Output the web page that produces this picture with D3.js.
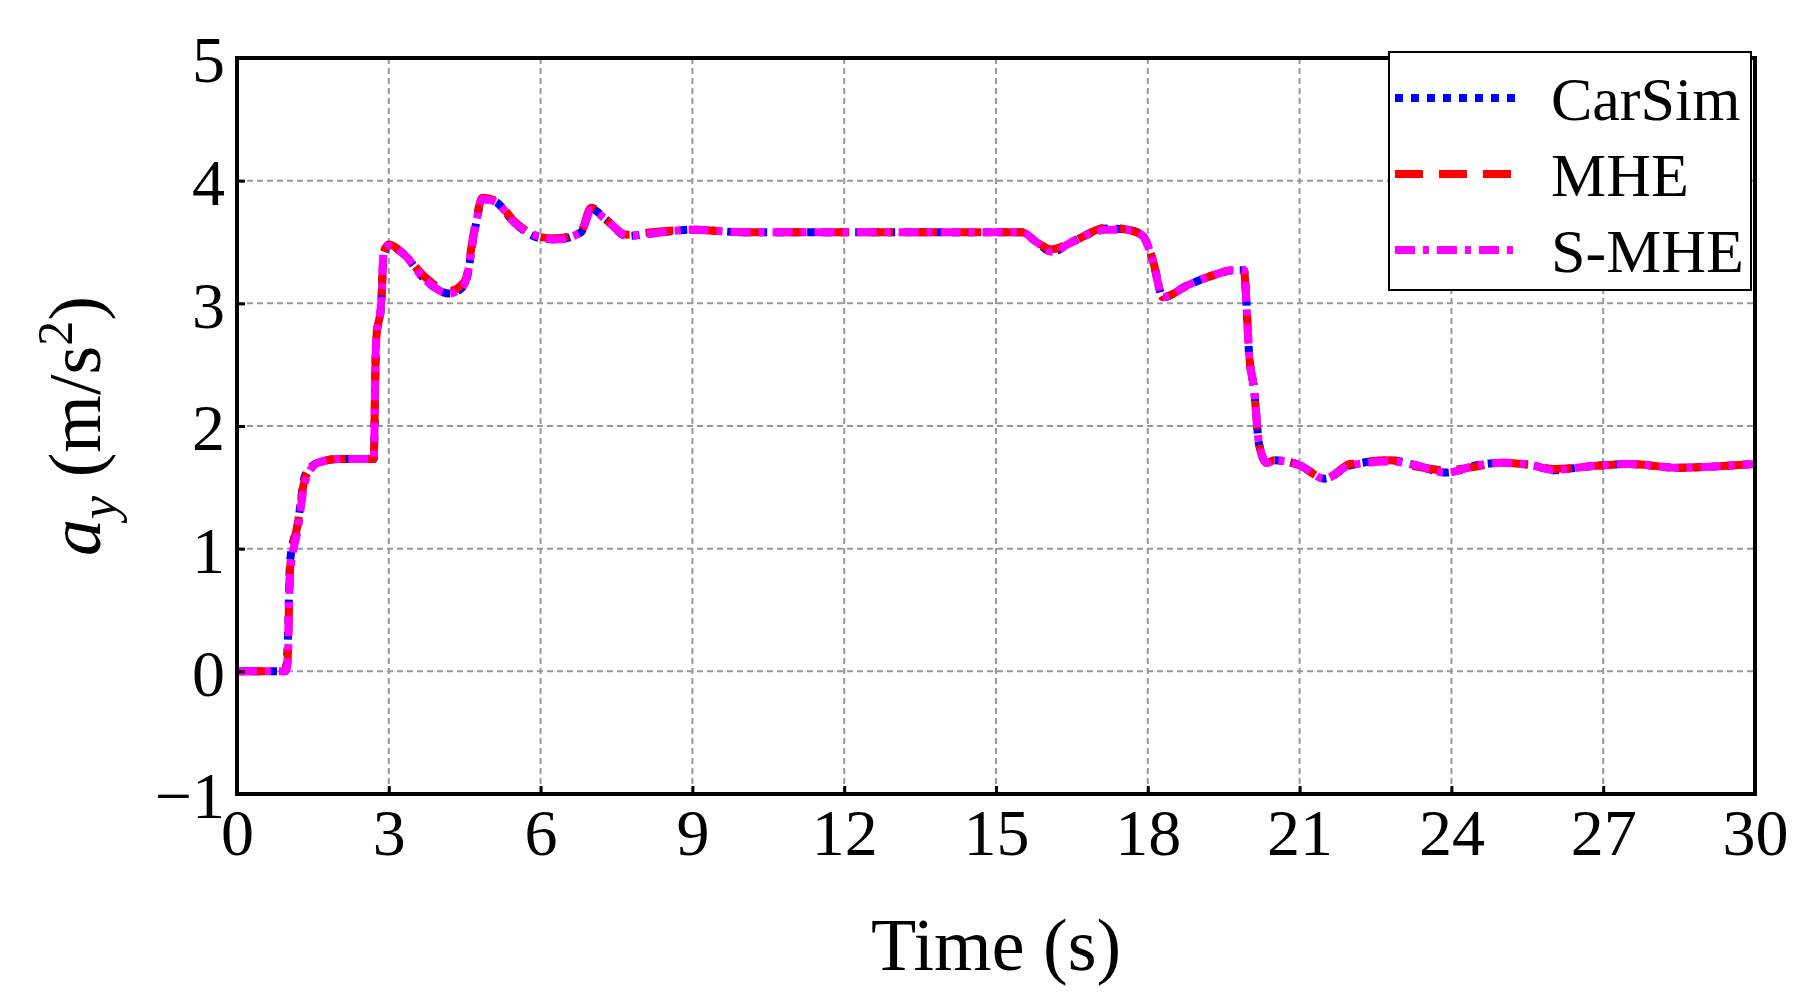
<!DOCTYPE html>
<html><head><meta charset="utf-8">
<script src="https://cdn.jsdelivr.net/npm/d3@7"></script>
<style>body{margin:0;background:#fff}text{font-family:"Liberation Serif","Times New Roman",serif}</style>
</head><body><div id="chart"></div>
<script>
const xTicks = [0,3,6,9,12,15,18,21,24,27,30];
const yTicks = [-1,0,1,2,3,4,5];
const time = [0,0.95,1.0,1.05,1.2,1.35,1.6,2.0,2.7,2.75,2.85,2.9,3.0,3.3,3.7,4.2,4.5,4.7,4.85,5.1,5.5,6.0,6.3,6.8,7.0,7.3,7.7,8.2,9,10,12,15.5,15.8,16.1,16.5,17.2,17.6,17.9,18.1,18.3,18.8,19.3,19.7,19.9,19.95,20.0,20.1,20.2,20.35,20.5,21.0,21.5,22,22.8,23.3,23.9,24.5,25,25.6,26,26.7,27.5,28.5,29.2,30];
const carsim = [0,0,0.2,0.9,1.2,1.6,1.7,1.73,1.73,2.7,3.0,3.4,3.47,3.4,3.2,3.08,3.15,3.6,3.85,3.83,3.65,3.53,3.52,3.58,3.77,3.68,3.55,3.57,3.6,3.58,3.58,3.58,3.5,3.42,3.5,3.61,3.6,3.55,3.35,3.05,3.15,3.23,3.27,3.27,3.0,2.6,2.3,1.85,1.7,1.72,1.68,1.57,1.68,1.72,1.68,1.62,1.68,1.7,1.68,1.64,1.67,1.69,1.66,1.67,1.69];
const mhe = [0,0,0.1,0.85,1.2,1.58,1.7,1.73,1.73,2.7,3.0,3.42,3.48,3.4,3.22,3.1,3.18,3.62,3.86,3.84,3.66,3.54,3.53,3.59,3.78,3.68,3.56,3.58,3.6,3.58,3.58,3.58,3.5,3.44,3.5,3.62,3.6,3.55,3.35,3.05,3.15,3.23,3.27,3.27,3.0,2.6,2.3,1.85,1.7,1.72,1.68,1.57,1.69,1.72,1.67,1.64,1.67,1.7,1.68,1.65,1.67,1.69,1.66,1.67,1.69];
const smhe = [0,0,0.05,0.8,1.15,1.55,1.7,1.73,1.73,2.7,3.0,3.42,3.47,3.4,3.2,3.08,3.16,3.6,3.85,3.83,3.65,3.54,3.52,3.58,3.76,3.68,3.55,3.57,3.6,3.58,3.58,3.58,3.5,3.42,3.5,3.6,3.6,3.55,3.35,3.05,3.15,3.23,3.27,3.27,3.0,2.6,2.3,1.85,1.7,1.72,1.68,1.57,1.68,1.71,1.68,1.62,1.68,1.7,1.68,1.64,1.67,1.69,1.66,1.67,1.69];
const series = [
  {name:"CarSim", vals:carsim, color:"#0000ff", dash:"8,8"},
  {name:"MHE", vals:mhe, color:"#ff0000", dash:"28,16"},
  {name:"S-MHE", vals:smhe, color:"#ff00ff", dash:"20,8,6,8"}
];

const W = 1811, H = 1006;
const m = {left:237, right:1755, top:58, bottom:794};
const svg = d3.select("#chart").append("svg").attr("width", W).attr("height", H);
const x = d3.scaleLinear().domain([0,30]).range([m.left, m.right]);
const y = d3.scaleLinear().domain([-1,5]).range([m.bottom, m.top]);

const grid = svg.append("g").attr("stroke","#999").attr("stroke-width",2).attr("stroke-dasharray","6,4");
xTicks.slice(1,-1).forEach(t => grid.append("line").attr("x1",x(t)).attr("x2",x(t)).attr("y1",m.top).attr("y2",m.bottom));
yTicks.slice(1,-1).forEach(t => grid.append("line").attr("x1",m.left).attr("x2",m.right).attr("y1",y(t)).attr("y2",y(t)));

const line = d3.line().x((d,i) => x(time[i])).y(d => y(d)).curve(d3.curveMonotoneX);
series.forEach(s => svg.append("path").attr("d", line(s.vals)).attr("fill","none")
  .attr("stroke", s.color).attr("stroke-width",8).attr("stroke-dasharray", s.dash));

svg.append("rect").attr("x",m.left).attr("y",m.top).attr("width",m.right-m.left).attr("height",m.bottom-m.top)
  .attr("fill","none").attr("stroke","#000").attr("stroke-width",4);

svg.append("g").attr("transform",`translate(0,${m.bottom})`)
  .call(d3.axisBottom(x).tickValues(xTicks).tickSize(-8).tickPadding(14))
  .call(g => g.select(".domain").remove())
  .call(g => g.selectAll("line").attr("stroke-width",3))
  .selectAll("text").attr("font-size",66).attr("font-family","Liberation Serif").attr("fill","#000");
svg.append("g").attr("transform",`translate(${m.left},0)`)
  .call(d3.axisLeft(y).tickValues(yTicks).tickSize(-8).tickPadding(12).tickFormat(d => d < 0 ? "\u2212" + (-d) : d))
  .call(g => g.select(".domain").remove())
  .call(g => g.selectAll("line").attr("stroke-width",3))
  .selectAll("text").attr("font-size",66).attr("font-family","Liberation Serif").attr("fill","#000").attr("dy","0.36em");

svg.append("text").attr("x",(m.left+m.right)/2).attr("y",970).attr("text-anchor","middle").attr("font-size",74).text("Time (s)");
const yl = svg.append("text").attr("transform",`translate(100,${(m.top+m.bottom)/2}) rotate(-90)`).attr("text-anchor","middle").attr("font-size",74);
yl.append("tspan").attr("font-style","italic").text("a");
yl.append("tspan").attr("font-style","italic").attr("font-size",52).attr("dy",16).text("y");
yl.append("tspan").attr("dy",-16).text(" (m/s");
yl.append("tspan").attr("font-size",50).attr("dy",-28).text("2");
yl.append("tspan").attr("dy",28).text(")");

const lg = svg.append("g").attr("transform","translate(1389,52)");
lg.append("rect").attr("width",362).attr("height",238).attr("fill","#fff").attr("stroke","#000").attr("stroke-width",2);
series.forEach((s,i) => {
  const cy = 46 + i*76;
  lg.append("line").attr("x1",6).attr("x2",130).attr("y1",cy).attr("y2",cy).attr("stroke",s.color).attr("stroke-width",8).attr("stroke-dasharray",s.dash);
  lg.append("text").attr("x",162).attr("y",cy).attr("dy","0.35em").attr("font-size",62).text(s.name);
});
</script></body></html>
